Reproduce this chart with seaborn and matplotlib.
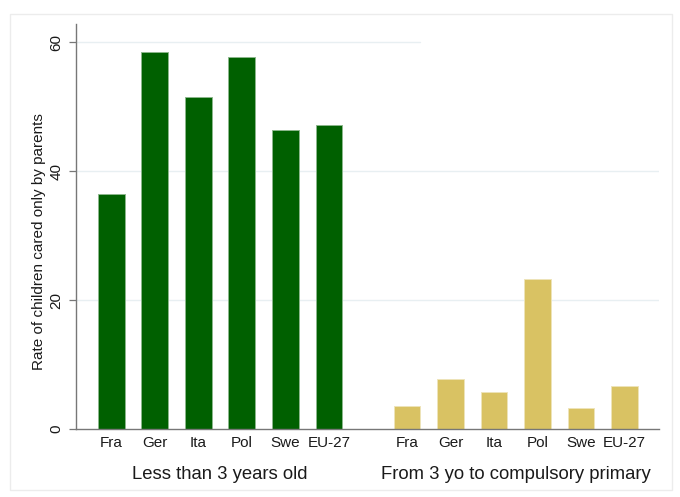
import matplotlib
matplotlib.use("Agg")
import matplotlib.pyplot as plt
import matplotlib.transforms as mtransforms
from matplotlib.patches import Rectangle
import numpy as np
import pandas as pd
import seaborn as sns

# Categories and values
countries = ["Fra", "Ger", "Ita", "Pol", "Swe", "EU-27"]
under3 = [36.4, 58.4, 51.5, 57.7, 46.3, 47.1]
from3_to_primary = [3.6, 7.7, 5.7, 23.2, 3.3, 6.7]
group_labels = ["Less than 3 years old", "From 3 yo to compulsory primary"]
y_ticks = [0, 20, 40, 60]
y_title = "Rate of children cared only by parents"

sns.set_theme(style="white")
plt.rcParams["font.family"] = ["Liberation Sans", "DejaVu Sans"]

green = "#006000"
sand = "#d9c263"

# Bar positions: two blocks of six with a gap between them
gap = 1.8
pos_a = np.arange(len(countries), dtype=float)
pos_b = pos_a + len(countries) - 1 + gap
df = pd.DataFrame({
    "pos": np.concatenate([pos_a, pos_b]),
    "value": under3 + from3_to_primary,
    "group": [group_labels[0]] * len(countries) + [group_labels[1]] * len(countries),
})

fig = plt.figure(figsize=(6.8, 4.97), dpi=100)
ax = fig.add_axes([76 / 680, 1 - 429 / 497, (659 - 76) / 680, (429 - 24) / 497])

# Faint outer frame around the graph region
fig.patches.append(Rectangle((10 / 680, 1 - 490 / 497), 662 / 680, 476 / 497,
                             transform=fig.transFigure, fill=False,
                             edgecolor="#ececec", linewidth=1.0, zorder=0))

# Horizontal grid lines
grid_col = "#e8eff2"
ax.axhline(20, color=grid_col, lw=1.0, zorder=0)
ax.axhline(40, color=grid_col, lw=1.0, zorder=0)
ax.axhline(60, xmax=(420 - 76) / (659 - 76), color=grid_col, lw=1.0, zorder=0)

sns.barplot(data=df, x="pos", y="value", hue="group", native_scale=True,
            palette={group_labels[0]: green, group_labels[1]: sand},
            saturation=1, dodge=False, width=0.61, legend=False, ax=ax,
            linewidth=0, zorder=2)
for bar in ax.patches:
    fc = bar.get_facecolor()
    edge = tuple(min(1, c * 0.45 + 0.55) for c in fc[:3])
    bar.set_edgecolor(edge)
    bar.set_linewidth(0.7)

ax.set_xlim(-0.81, pos_b[-1] + 0.79)
ax.set_ylim(0, 62.8)

ax.set_xticks(np.concatenate([pos_a, pos_b]))
ax.set_xticklabels(countries * 2, fontsize=11, color="#1a1a1a")
ax.set_yticks(y_ticks)
ax.set_yticklabels([str(t) for t in y_ticks], fontsize=11, color="#1a1a1a",
                   rotation=90, va="center")

ax.tick_params(axis="x", length=0, pad=5)
ax.tick_params(axis="y", length=5, width=0.9, color="#777777", pad=4, left=True)

ax.set_xlabel("")
ax.set_ylabel("")
for side in ("top", "right"):
    ax.spines[side].set_visible(False)
for side in ("left", "bottom"):
    ax.spines[side].set_color("#777777")
    ax.spines[side].set_linewidth(1.0)

# Group titles under each block of bars
trans = mtransforms.blended_transform_factory(ax.transData, ax.transAxes)
for label, pos in zip(group_labels, (pos_a, pos_b)):
    ax.text(pos.mean(), (429 - 479) / 405, label, transform=trans,
            ha="center", va="baseline", fontsize=13.3, color="#1a1a1a")

fig.text(39 / 680, 1 - 242 / 497, y_title, rotation=90, ha="center", va="center",
         fontsize=11, color="#1a1a1a")

fig.savefig("out.png", dpi=100, facecolor="white")
